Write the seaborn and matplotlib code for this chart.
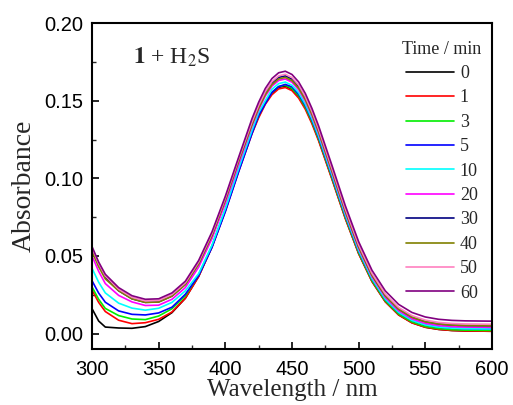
import pandas as pd
import matplotlib.pyplot as plt
from matplotlib.ticker import MultipleLocator
import seaborn as sns

# wavelengths (nm) and absorbance
wavelength = [300, 305, 310, 320, 330, 340, 350, 360, 370, 380, 390, 400, 410, 420, 425, 430, 435, 440,
              445, 450, 455, 460, 465, 470, 480, 490, 500, 510, 520, 530, 540, 550, 560, 570, 580, 590, 600]

abs_0 = [.0161, .0081, .0042, .0036, .0034, .0045, .0078, .0135, .0228, .0369, .0560, .0794, .1051, .1295, .1399, .1486, .1549, .1586,
         .1595, .1574, .1527, .1454, .1360, .1249, .0999, .0745, .0517, .0337, .0206, .0121, .0070, .0041, .0027, .0020, .0017, .0016, .0015]
abs_1 = [.0281, .0201, .0142, .0086, .0064, .0070, .0092, .0139, .0227, .0367, .0557, .0789, .1045, .1287, .1390, .1477, .1539, .1576,
         .1585, .1565, .1517, .1445, .1351, .1241, .0993, .0740, .0514, .0335, .0205, .0120, .0069, .0041, .0027, .0020, .0017, .0016, .0015]
abs_3 = [.0301, .0221, .0162, .0116, .0094, .0090, .0113, .0160, .0243, .0379, .0565, .0799, .1056, .1300, .1404, .1491, .1554, .1591,
         .1600, .1579, .1532, .1459, .1365, .1254, .1004, .0750, .0522, .0342, .0211, .0126, .0075, .0046, .0032, .0025, .0022, .0021, .0020]
abs_5 = [.0341, .0261, .0202, .0146, .0124, .0120, .0133, .0170, .0253, .0374, .0555, .0785, .1042, .1288, .1404, .1481, .1554, .1591,
         .1605, .1589, .1542, .1469, .1375, .1264, .1014, .0760, .0532, .0352, .0221, .0136, .0085, .0056, .0042, .0035, .0032, .0031, .0030]
abs_10 = [.0421, .0331, .0262, .0196, .0164, .0151, .0163, .0201, .0275, .0386, .0569, .0804, .1063, .1308, .1423, .1500, .1574, .1610,
          .1620, .1599, .1552, .1478, .1383, .1272, .1021, .0765, .0536, .0354, .0222, .0137, .0085, .0056, .0042, .0035, .0032, .0031, .0030]
abs_20 = [.0501, .0401, .0322, .0246, .0204, .0181, .0183, .0221, .0296, .0428, .0612, .0839, .1090, .1336, .1442, .1530, .1594, .1630,
          .1640, .1619, .1571, .1498, .1402, .1290, .1037, .0779, .0549, .0366, .0234, .0147, .0095, .0066, .0052, .0045, .0042, .0041, .0040]
abs_30 = [.0541, .0441, .0362, .0276, .0224, .0201, .0204, .0242, .0317, .0451, .0635, .0864, .1116, .1354, .1460, .1549, .1613, .1650,
          .1660, .1639, .1591, .1517, .1420, .1307, .1053, .0794, .0562, .0378, .0245, .0158, .0106, .0077, .0062, .0055, .0052, .0051, .0050]
abs_40 = [.0531, .0431, .0352, .0276, .0224, .0201, .0203, .0241, .0316, .0448, .0632, .0859, .1110, .1346, .1452, .1540, .1604, .1640,
          .1650, .1629, .1581, .1508, .1412, .1300, .1047, .0789, .0559, .0376, .0244, .0157, .0105, .0076, .0062, .0055, .0052, .0051, .0050]
abs_50 = [.0551, .0451, .0372, .0286, .0234, .0211, .0214, .0252, .0327, .0461, .0645, .0874, .1126, .1364, .1470, .1559, .1623, .1660,
          .1670, .1649, .1601, .1527, .1430, .1317, .1063, .0804, .0572, .0388, .0255, .0168, .0116, .0087, .0072, .0065, .0062, .0061, .0060]
abs_60 = [.0561, .0461, .0382, .0296, .0244, .0221, .0224, .0262, .0337, .0471, .0655, .0884, .1136, .1384, .1490, .1579, .1643, .1680,
          .1690, .1669, .1621, .1547, .1450, .1337, .1083, .0824, .0592, .0408, .0275, .0188, .0136, .0107, .0092, .0085, .0082, .0081, .0080]

times = ["0", "1", "3", "5", "10", "20", "30", "40", "50", "60"]
series = [abs_0, abs_1, abs_3, abs_5, abs_10, abs_20, abs_30, abs_40, abs_50, abs_60]
colors = ["#000000", "#ff0000", "#00ee00", "#0000ff", "#00ffff",
          "#ff00ff", "#000080", "#808000", "#ff80c0", "#800080"]

# long-form table
frames = []
for t, vals in zip(times, series):
    frames.append(pd.DataFrame({"wavelength": wavelength, "absorbance": vals, "time": t}))
df = pd.concat(frames, ignore_index=True)

sns.set_style("ticks")
plt.rcParams["font.family"] = ["Liberation Sans", "DejaVu Sans"]

fig = plt.figure(figsize=(5.13, 4.05), dpi=100)
ax = fig.add_axes([0.1793, 0.138, 0.7797, 0.805])

sns.lineplot(data=df, x="wavelength", y="absorbance", hue="time", hue_order=times,
             palette=dict(zip(times, colors)), linewidth=1.2, ax=ax, legend=True)

ax.set_xlim(300, 600)
ax.set_ylim(-0.01, 0.20)
ax.xaxis.set_major_locator(MultipleLocator(50))
ax.xaxis.set_minor_locator(MultipleLocator(25))
ax.yaxis.set_major_locator(MultipleLocator(0.05))
ax.yaxis.set_minor_locator(MultipleLocator(0.025))
ax.yaxis.set_major_formatter(plt.FormatStrFormatter("%.2f"))
ax.tick_params(which="major", direction="in", length=5, width=1.2, labelsize=14.5, colors="black")
ax.tick_params(axis="x", which="major", pad=8)
ax.tick_params(axis="y", which="major", pad=6)
ax.tick_params(which="minor", direction="in", length=3, width=1.0)
for s in ax.spines.values():
    s.set_linewidth(1.5)
    s.set_color("black")

ax.set_xlabel("Wavelength / nm", family="Liberation Serif", fontsize=18, labelpad=0)
ax.set_ylabel("Absorbance", family="Liberation Serif", fontsize=20, labelpad=6)

ax.text(331, 0.178, r"$\mathbf{1}$ + H$_2$S", family="Liberation Serif", fontsize=17,
        ha="left", va="center", math_fontfamily="stix")

handles, labels = ax.get_legend_handles_labels()
leg = ax.legend(handles, labels, title="Time / min", loc="upper right",
                bbox_to_anchor=(1.005, 0.985), frameon=False, handlelength=2.66,
                handletextpad=0.35, labelspacing=0.41, borderpad=0.2,
                prop={"family": "Liberation Serif", "size": 13})
leg.get_title().set_fontfamily("Liberation Serif")
leg.get_title().set_fontsize(13)

fig.savefig("out.png", dpi=100)
